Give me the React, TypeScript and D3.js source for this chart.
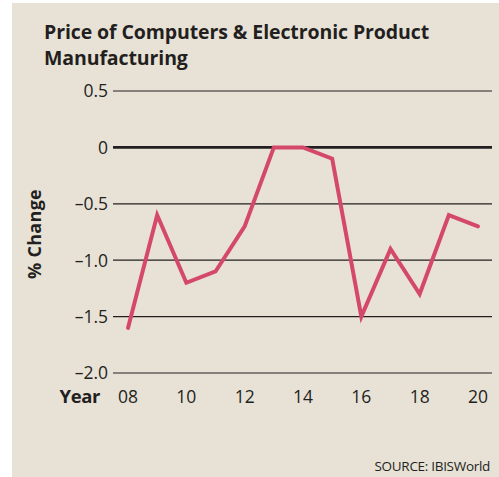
import React from "react";
import * as d3 from "d3";

const years = [2008, 2009, 2010, 2011, 2012, 2013, 2014, 2015, 2016, 2017, 2018, 2019, 2020];
const values = [-1.6, -0.6, -1.2, -1.1, -0.7, 0, 0, -0.1, -1.5, -0.9, -1.3, -0.6, -0.7];
const yTicks = [0.5, 0, -0.5, -1.0, -1.5, -2.0];
const yTickLabels = ["0.5", "0", "-0.5", "-1.0", "-1.5", "-2.0"];
const xTicks = [2008, 2010, 2012, 2014, 2016, 2018, 2020];
const xTickLabels = ["08", "10", "12", "14", "16", "18", "20"];

const W = 499, H = 477;
const FONT = "'Open Sans', 'Noto Sans', sans-serif";

export default function App() {
  const x = d3.scaleLinear().domain([2008, 2020]).range([128, 478]);
  const y = d3.scaleLinear().domain([-2, 0.5]).range([373, 91]);
  const line = d3.line<number>().x((_, i) => x(years[i])).y((d) => y(d));
  return (
    <svg width={W} height={H} style={{ position: "absolute", left: 0, top: 0 }}>
      <rect x={0} y={0} width={W} height={H} fill="#ffffff" />
      <rect x={12} y={3} width={W - 12} height={H - 3} fill="#e8e2d6" />
      <text x={44} y={38.5} fontFamily={FONT} fontWeight={700} fontSize={19.5} fill="#231f20" letterSpacing={-0.1}>
        Price of Computers &amp; Electronic Product
      </text>
      <text x={44} y={65} fontFamily={FONT} fontWeight={700} fontSize={19.5} fill="#231f20" letterSpacing={-0.1}>
        Manufacturing
      </text>
      {yTicks.map((t, i) => (
        <g key={t}>
          <line x1={113} x2={492} y1={y(t)} y2={y(t)} stroke="#231f20" strokeWidth={t === 0 ? 2.6 : 1.2} />
          <text x={108} y={y(t)} dy="0.36em" textAnchor="end" fontFamily={FONT} fontSize={17.5} fill="#231f20">
            {yTickLabels[i].replace("-", "\u2013")}
          </text>
        </g>
      ))}
      {xTicks.map((t, i) => (
        <text key={t} x={x(t)} y={403} textAnchor="middle" fontFamily={FONT} fontSize={17.5} fill="#231f20">
          {xTickLabels[i]}
        </text>
      ))}
      <text x={100} y={403} textAnchor="end" fontFamily={FONT} fontWeight={700} fontSize={18.5} fill="#231f20" letterSpacing={-0.4}>
        Year
      </text>
      <text transform="translate(41,234) rotate(-90)" textAnchor="middle" fontFamily={FONT} fontWeight={700} fontSize={18} fill="#231f20" letterSpacing={0.3}>
        % Change
      </text>
      <path d={line(values) || ""} fill="none" stroke="#d4496a" strokeWidth={4} strokeLinejoin="miter" strokeLinecap="round" />
      <text x={490} y={471} textAnchor="end" fontFamily={FONT} fontSize={13.5} fill="#231f20" letterSpacing={-0.3}>
        SOURCE: IBISWorld
      </text>
    </svg>
  );
}
